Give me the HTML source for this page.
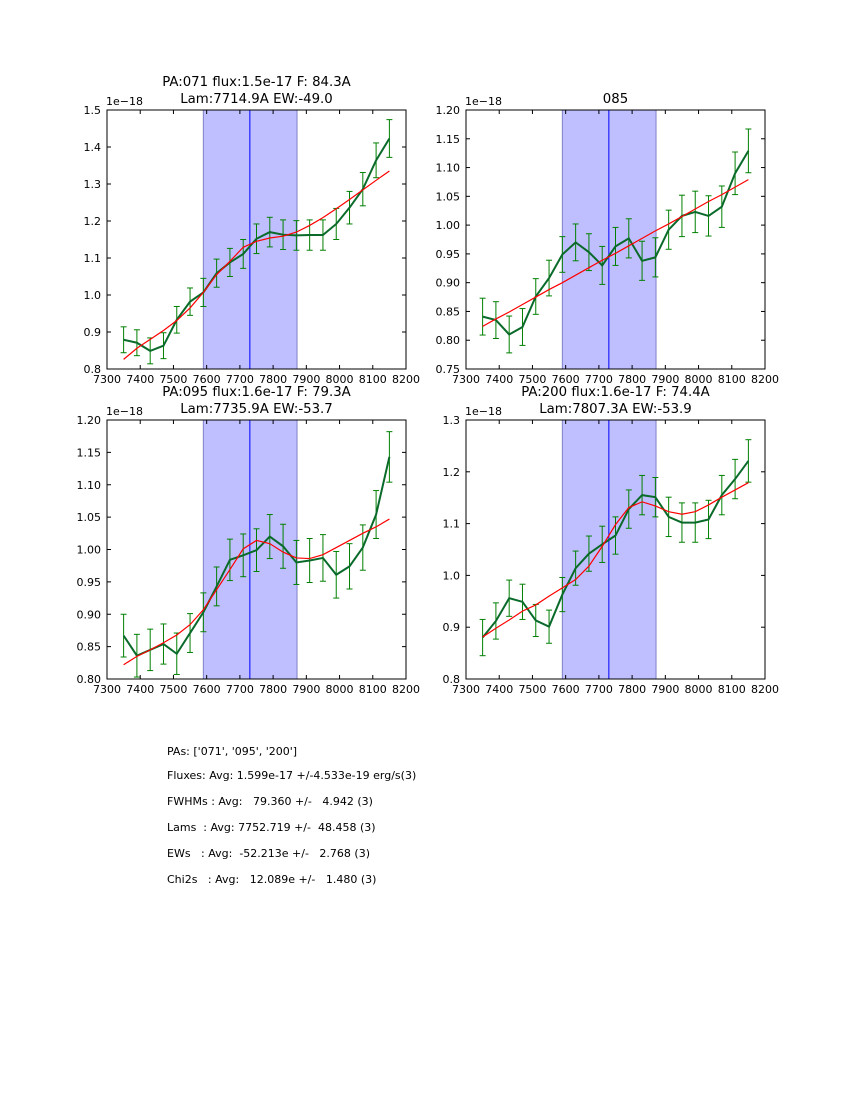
<!DOCTYPE html>
<html><head><meta charset="utf-8">
<style>
html,body{margin:0;padding:0;background:#fff;}
svg{display:block;font-family:"DejaVu Sans","Liberation Sans",sans-serif;}
.stats{position:absolute;left:167px;font-family:"DejaVu Sans","Liberation Sans",sans-serif;font-size:11px;color:#000;white-space:pre;}
</style></head>
<body>
<div style="position:relative;width:850px;height:1100px;">
<svg id="fig" width="850" height="1100" viewBox="0 0 850 1100"></svg>
<div class="stats" style="top:745px">PAs: ['071', '095', '200']</div>
<div class="stats" style="top:769px">Fluxes: Avg: 1.599e-17 +/-4.533e-19 erg/s(3)</div>
<div class="stats" style="top:795px">FWHMs : Avg:   79.360 +/-   4.942 (3)</div>
<div class="stats" style="top:821px">Lams  : Avg: 7752.719 +/-  48.458 (3)</div>
<div class="stats" style="top:847px">EWs   : Avg:  -52.213e +/-   2.768 (3)</div>
<div class="stats" style="top:873px">Chi2s   : Avg:   12.089e +/-   1.480 (3)</div>
</div>
<script>
const wavelengths = [7350,7390,7430,7470,7510,7550,7590,7630,7670,7710,7750,7790,7830,7870,7910,7950,7990,8030,8070,8110,8150];
const xTicks = [7300,7400,7500,7600,7700,7800,7900,8000,8100,8200];
const bandRange = [7590,7872];
const lineCenter = 7730;

const p1Flux = [0.879,0.871,0.849,0.863,0.933,0.982,1.007,1.059,1.088,1.111,1.152,1.170,1.163,1.161,1.162,1.162,1.192,1.236,1.286,1.364,1.423];
const p1Err  = [0.035,0.035,0.035,0.035,0.036,0.037,0.038,0.038,0.038,0.039,0.040,0.040,0.040,0.040,0.041,0.041,0.042,0.044,0.045,0.047,0.051];
const p1Fit  = [0.826,0.856,0.880,0.904,0.931,0.965,1.007,1.055,1.091,1.129,1.145,1.154,1.159,1.170,1.188,1.209,1.233,1.258,1.284,1.310,1.335];
const p1Ticks = [0.8,0.9,1.0,1.1,1.2,1.3,1.4,1.5];

const p2Flux = [0.841,0.835,0.810,0.823,0.876,0.908,0.949,0.970,0.953,0.930,0.963,0.977,0.938,0.944,0.992,1.016,1.023,1.016,1.032,1.090,1.129];
const p2Err  = [0.032,0.032,0.032,0.032,0.031,0.031,0.031,0.032,0.032,0.033,0.033,0.034,0.034,0.034,0.034,0.036,0.036,0.035,0.036,0.037,0.038];
const p2Fit  = [0.824,0.837,0.849,0.862,0.875,0.888,0.900,0.913,0.926,0.939,0.951,0.964,0.977,0.990,1.002,1.015,1.028,1.041,1.053,1.066,1.079];
const p2Ticks = [0.75,0.80,0.85,0.90,0.95,1.00,1.05,1.10,1.15,1.20];

const p3Flux = [0.867,0.836,0.845,0.854,0.839,0.871,0.903,0.943,0.984,0.991,0.999,1.020,1.005,0.980,0.983,0.987,0.961,0.974,1.003,1.054,1.143];
const p3Err  = [0.033,0.033,0.032,0.031,0.032,0.030,0.030,0.030,0.032,0.033,0.033,0.034,0.034,0.034,0.034,0.036,0.036,0.035,0.035,0.037,0.039];
const p3Fit  = [0.822,0.835,0.845,0.856,0.868,0.884,0.907,0.938,0.969,1.001,1.014,1.009,0.996,0.987,0.986,0.992,1.003,1.014,1.025,1.035,1.047];
const p3Ticks = [0.80,0.85,0.90,0.95,1.00,1.05,1.10,1.15,1.20];

const p4Flux = [0.880,0.912,0.956,0.949,0.913,0.901,0.963,1.014,1.042,1.060,1.077,1.128,1.155,1.151,1.113,1.102,1.102,1.108,1.155,1.186,1.221];
const p4Err  = [0.035,0.035,0.035,0.034,0.031,0.032,0.033,0.033,0.034,0.035,0.036,0.037,0.038,0.038,0.038,0.038,0.038,0.037,0.038,0.038,0.041];
const p4Fit  = [0.881,0.898,0.914,0.931,0.943,0.960,0.976,0.992,1.018,1.056,1.098,1.131,1.142,1.134,1.123,1.118,1.123,1.136,1.151,1.165,1.179];
const p4Ticks = [0.8,0.9,1.0,1.1,1.2,1.3];

const NS = "http://www.w3.org/2000/svg";
const svg = document.getElementById('fig');
function mk(tag, attrs, parent){
  const e = document.createElementNS(NS, tag);
  for (const k in attrs) e.setAttribute(k, attrs[k]);
  (parent||svg).appendChild(e);
  return e;
}

function panel(id, box, flux, err, fit, yTicks, yDec, titles){
  const [x0,y0,x1,y1] = box;
  const ymin = yTicks[0], ymax = yTicks[yTicks.length-1];
  const sx = v => x0 + (v-7300)/900*(x1-x0);
  const sy = v => y1 - (v-ymin)/(ymax-ymin)*(y1-y0);
  const g = mk('g', {});
  
  

  const band = mk('rect', {x:sx(bandRange[0]), y:y0, width:sx(bandRange[1])-sx(bandRange[0]), height:y1-y0, fill:'#bfbfff', stroke:'#8080c8', 'stroke-width':1}, g);
  
  
  const cl = mk('line', {x1:sx(lineCenter), x2:sx(lineCenter), y1:y0, y2:y1, stroke:'#0000ff', 'stroke-width':1}, g);
  
  

  const eg = mk('g', {stroke:'#008000', 'stroke-width':1}, g);
  
  
  wavelengths.forEach((w,i)=>{
    const x = sx(w), ya = sy(flux[i]+err[i]), yb = sy(flux[i]-err[i]);
    mk('line', {x1:x,x2:x,y1:ya,y2:yb}, eg);
    mk('line', {x1:x-3,x2:x+3,y1:ya,y2:ya}, eg);
    mk('line', {x1:x-3,x2:x+3,y1:yb,y2:yb}, eg);
  });
  const dp = mk('polyline', {points: wavelengths.map((w,i)=>sx(w)+','+sy(flux[i])).join(' '), fill:'none', stroke:'#0a6a2a', 'stroke-width':2}, g);
  
  
  const fp = mk('polyline', {points: wavelengths.map((w,i)=>sx(w)+','+sy(fit[i])).join(' '), fill:'none', stroke:'#ff0000', 'stroke-width':1.2}, g);
  
  

  const fr = mk('rect', {x:x0, y:y0, width:x1-x0, height:y1-y0, fill:'none', stroke:'#000', 'stroke-width':1}, g);
  
  

  const tg = mk('g', {stroke:'#000', 'stroke-width':1}, g);
  xTicks.forEach(t=>{
    const x = sx(t);
    mk('line', {x1:x,x2:x,y1:y1,y2:y1-4}, tg);
    mk('line', {x1:x,x2:x,y1:y0,y2:y0+4}, tg);
    const tx = mk('text', {x:x, y:y1+14, 'text-anchor':'middle', 'font-size':11, stroke:'none', fill:'#000'}, g);
    tx.textContent = t;
    
    
  });
  yTicks.forEach(t=>{
    const y = sy(t);
    mk('line', {x1:x0,x2:x0+4,y1:y,y2:y}, tg);
    mk('line', {x1:x1,x2:x1-4,y1:y,y2:y}, tg);
    const ty = mk('text', {x:x0-6, y:y+4, 'text-anchor':'end', 'font-size':11, fill:'#000'}, g);
    ty.textContent = t.toFixed(yDec);
    
    
  });
  const off = mk('text', {x:x0-1, y:y0-5, 'font-size':11, fill:'#000'}, g);
  off.textContent = '1e\u221218';
  
  

  titles.forEach((t,k)=>{
    const tt = mk('text', {x:(x0+x1)/2, y:y0-7-(titles.length-1-k)*17, 'text-anchor':'middle', 'font-size':13.3, fill:'#000'}, g);
    tt.textContent = t;
    
    
  });
}

panel('pa071', [107,110,406,369], p1Flux, p1Err, p1Fit, p1Ticks, 1, ['PA:071 flux:1.5e-17 F: 84.3A','Lam:7714.9A EW:-49.0']);
panel('pa085', [466,110,765,369], p2Flux, p2Err, p2Fit, p2Ticks, 2, ['085']);
panel('pa095', [107,420,406,679], p3Flux, p3Err, p3Fit, p3Ticks, 2, ['PA:095 flux:1.6e-17 F: 79.3A','Lam:7735.9A EW:-53.7']);
panel('pa200', [466,420,765,679], p4Flux, p4Err, p4Fit, p4Ticks, 1, ['PA:200 flux:1.6e-17 F: 74.4A','Lam:7807.3A EW:-53.9']);
</script>
</body></html>
